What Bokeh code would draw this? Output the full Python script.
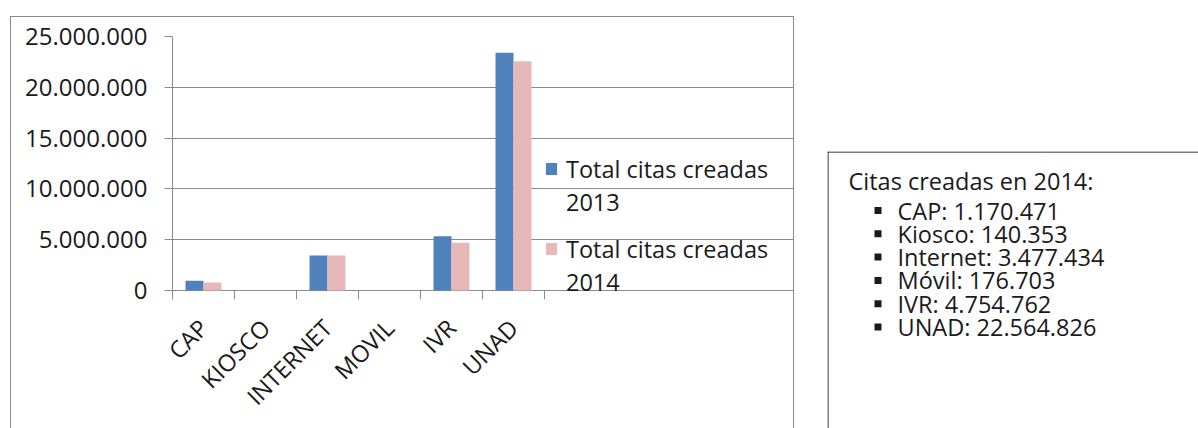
import math
from bokeh.plotting import figure
from bokeh.models import (ColumnDataSource, Range1d, LinearAxis, FixedTicker, Legend, LegendItem,
                          Spacer, Span)
from bokeh.transform import dodge
from bokeh.layouts import row, column
from bokeh.embed import file_html
from bokeh.resources import INLINE
from bokeh.core.properties import value

# ---------------- data ----------------
categories = ["CAP", "KIOSCO", "INTERNET", "MOVIL", "IVR", "UNAD"]
citas_2013 = [950000, 0, 3440000, 0, 5350000, 23400000]
citas_2014 = [790000, 0, 3440000, 0, 4690000, 22560000]
y_ticks = [0, 5000000, 10000000, 15000000, 20000000, 25000000]
series_name = "Total citas creadas"
series_years = ["2013", "2014"]

box_title = "Citas creadas en 2014:"
box_names = ["CAP", "Kiosco", "Internet", "Móvil", "IVR", "UNAD"]
box_values = [1170471, 140353, 3477434, 176703, 4754762, 22564826]

# ---------------- styles ----------------
FONT = "Open Sans"
TXT = "#1a1a1a"
GRAY = "#8a8a8a"
BLUE = "#4F81BD"
PINK = "#E6B9B8"


def fmt(v):
    return f"{v:,}".replace(",", ".")


n = len(categories)
centers = [i + 0.5 for i in range(n)]

# ---------------- bar chart ----------------
W1, H1 = 782, 411
BL, BT = 161, 19                   # borders left / top
PLOT_W, PLOT_H = 372, 254          # size of the value area in px
TICK_PX = 9                        # boundary ticks below the zero line
FRAME_W = W1 - BL                  # frame also holds the legend area on the right
FRAME_H = PLOT_H + TICK_PX         # frame reaches down to the tick ends
BB = H1 - BT - FRAME_H
x_end = n * FRAME_W / PLOT_W
y_top = y_ticks[-1]
y_start = -y_top * TICK_PX / PLOT_H

p = figure(x_range=Range1d(0, x_end), y_range=Range1d(y_start, y_top),
           width=W1, height=H1, output_backend="svg", toolbar_location=None,
           x_axis_location=None, y_axis_location=None,
           min_border_left=BL, min_border_right=0, min_border_top=BT, min_border_bottom=BB)
p.outline_line_color = None
p.background_fill_color = "white"

src = ColumnDataSource(dict(x=centers, cat=categories, v13=citas_2013, v14=citas_2014))
r13 = p.vbar(x=dodge("x", -0.145), top="v13", bottom=0, width=0.29, source=src,
             fill_color=BLUE, line_color=None)
r14 = p.vbar(x=dodge("x", 0.145), top="v14", bottom=0, width=0.29, source=src,
             fill_color=PINK, line_color=None)

yaxis = LinearAxis(ticker=FixedTicker(ticks=y_ticks))
yaxis.major_label_overrides = {t: fmt(t) for t in y_ticks}
yaxis.axis_line_color = GRAY
yaxis.major_tick_line_color = GRAY
yaxis.major_tick_out = 8
yaxis.major_tick_in = 0
yaxis.minor_tick_line_color = None
yaxis.major_label_standoff = 17
yaxis.major_label_text_font = FONT
yaxis.major_label_text_font_size = "24px"
yaxis.major_label_text_color = TXT
p.add_layout(yaxis, "left")

# horizontal grid (the 0 line doubles as the category axis line)
p.ygrid.ticker = FixedTicker(ticks=y_ticks)
p.ygrid.grid_line_color = GRAY
p.ygrid.bounds = (0, n)
p.xgrid.visible = False

# tick marks at the category boundaries, hanging below y = 0
bounds = list(range(n + 1))
tick_axis = LinearAxis(ticker=FixedTicker(ticks=bounds), bounds=(0, n), fixed_location=0)
tick_axis.major_label_overrides = {b: "" for b in bounds}
tick_axis.axis_line_color = None
tick_axis.major_tick_line_color = GRAY
tick_axis.major_tick_out = 0
tick_axis.major_tick_in = TICK_PX
tick_axis.minor_tick_line_color = None
tick_axis.major_label_standoff = 0
p.add_layout(tick_axis, "above")

# category labels at category centres
cat_axis = LinearAxis(ticker=FixedTicker(ticks=centers), bounds=(0, n))
cat_axis.major_label_overrides = {c: lab for c, lab in zip(centers, categories)}
cat_axis.axis_line_color = None
cat_axis.major_tick_line_color = None
cat_axis.major_tick_out = 0
cat_axis.major_tick_in = 0
cat_axis.minor_tick_line_color = None
cat_axis.major_label_orientation = math.pi / 4
cat_axis.major_label_standoff = 24
cat_axis.major_label_text_font = FONT
cat_axis.major_label_text_font_size = "23.5px"
cat_axis.major_label_text_color = TXT
p.add_layout(cat_axis, "below")


def make_legend(renderer, year, loc):
    lg = Legend(items=[LegendItem(label=series_name, renderers=[renderer]),
                       LegendItem(label=year, renderers=[])],
                location=loc)
    lg.glyph_width = 14
    lg.glyph_height = 15
    lg.label_standoff = 8
    lg.spacing = 0
    lg.padding = 0
    lg.margin = 0
    lg.border_line_color = None
    lg.background_fill_alpha = 0
    lg.label_text_font = FONT
    lg.label_text_font_size = "23.5px"
    lg.label_text_color = TXT
    lg.label_height = 33
    return lg


LEG_X = PLOT_W
p.add_layout(make_legend(r13, series_years[0], (LEG_X, 81)), "center")
p.add_layout(make_legend(r14, series_years[1], (LEG_X, 1)), "center")

chart_box = column(p, styles={"border-top": f"1px solid {GRAY}",
                              "border-left": f"1px solid {GRAY}",
                              "border-right": f"1px solid {GRAY}"})

# ---------------- text box ----------------
W2, H2 = 371, 277
tb = figure(width=W2, height=H2, x_range=Range1d(0, W2), y_range=Range1d(H2, 0),
            output_backend="svg", toolbar_location=None, min_border=0,
            x_axis_location=None, y_axis_location=None)
tb.outline_line_color = None
tb.grid.visible = False
tb.add_layout(Span(location=0.5, dimension="width", line_color="black", line_width=1))
tb.add_layout(Span(location=0.5, dimension="height", line_color="black", line_width=1))

TITLE_X, TITLE_Y = 21, 29
ITEM_X, BULLET_X, ITEM_Y0, ITEM_STEP = 70, 50.5, 59, 23.3

tb.text(x=[TITLE_X], y=[TITLE_Y], text=[box_title], text_font=value(FONT),
        text_font_size="23.5px", text_color=TXT, text_baseline="middle", text_align="left")

item_y = [ITEM_Y0 + i * ITEM_STEP for i in range(len(box_names))]
item_txt = [f"{nm}: {fmt(v)}" for nm, v in zip(box_names, box_values)]
isrc = ColumnDataSource(dict(y=item_y, t=item_txt, xb=[BULLET_X] * len(item_y),
                             xt=[ITEM_X] * len(item_y)))
tb.scatter(x="xb", y="y", source=isrc, marker="square", size=7, fill_color=TXT, line_color=None)
tb.text(x="xt", y="y", text="t", source=isrc, text_font=value(FONT), text_font_size="23.5px",
        text_color=TXT, text_baseline="middle", text_align="left")

layout = row(
    column(Spacer(height=16), row(Spacer(width=10), chart_box)),
    Spacer(width=33),
    column(Spacer(height=151), tb),
)
open("out.html", "w").write(file_html(layout, INLINE))
